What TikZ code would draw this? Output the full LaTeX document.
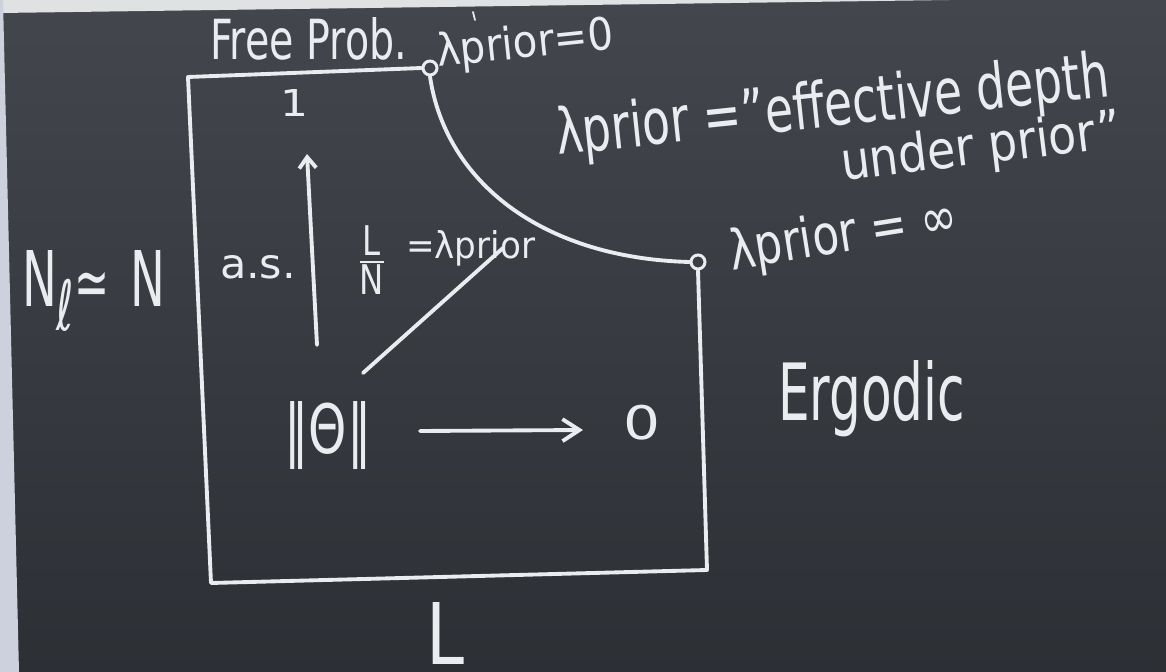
\documentclass[tikz,border=0pt]{standalone}
\usepackage{fontspec}
\setmainfont{DejaVu Sans}
\usepackage{graphicx}
\usetikzlibrary{arrows.meta}
\newlength\pxu \setlength\pxu{0.02cm}
\definecolor{chalk}{HTML}{E9EDF0}
\definecolor{boardtop}{HTML}{43474D}
\definecolor{boardmid}{HTML}{35393E}
\definecolor{boardbot}{HTML}{2C2F34}
\definecolor{wallA}{HTML}{DFE1E3}
\definecolor{wallB}{HTML}{CDD1DD}
\tikzset{
  chalkline/.style={draw=chalk, line width=2.2pt, line cap=round, line join=round},
  chalktext/.style={text=chalk, inner sep=0pt, outer sep=0pt},
  endpoint/.style={circle, draw=chalk, line width=1.7pt, minimum size=0.28cm, inner sep=0pt},
}
\newcommand\fitbox[3]{\resizebox{#1\pxu}{#2\pxu}{#3}}
\begin{document}
\begin{tikzpicture}[x=0.02cm, y=-0.02cm]
\useasboundingbox (0,0) rectangle (1166,672);
% board and wall
\shade[top color=boardtop, middle color=boardmid, bottom color=boardbot] (0,0) rectangle (1166,672);
\fill[wallA] (0,0) -- (950,0) -- (0,13) -- cycle;
\fill[wallB] (0,0) -- (3,0) -- (19,672) -- (0,672) -- cycle;

% corner points of the region
\node[endpoint] (c0) at (430,68) {};
\node[endpoint] (cinf) at (698,262) {};
\coordinate (tl) at (188,77);
\coordinate (bl) at (211,583);
\coordinate (br) at (707,570);

% region outline
\draw[chalkline] (c0.west) -- (tl) -- (bl) -- (br) -- (cinf.south);
\draw[chalkline] (c0.south) .. controls (445,180) and (540,258) .. (cinf.west);

% labels
\node[chalktext, anchor=base west] (free) at (210,60) {\fitbox{197}{42}{Free Prob.}};
\node[chalktext, anchor=base west, rotate=6] (lam0) at (438,67) {\fitbox{178}{34}{λprior=0}};
\draw[chalkline, line width=1pt] (473,12) -- (475,20);
\node[chalktext, anchor=base] (one) at (294,117) {\fitbox{28}{27}{1}};
\node[chalktext, anchor=base west] (as) at (220,278) {\fitbox{76}{23}{a.s.}};
\node[chalktext] (frac) at (372,260) {\resizebox*{32\pxu}{68\pxu}{$\frac{\hbox{L}}{\hbox{N}}$}};
\node[chalktext, anchor=base west] (lamLN) at (406,258) {\fitbox{129}{28}{=λprior}};
\node[chalktext] (theta) at (328,436) {\resizebox*{87\pxu}{68\pxu}{‖Θ‖}};
\node[chalktext] (zero) at (642,423) {\resizebox*{37\pxu}{35\pxu}{0}};
\node[chalktext, anchor=base west] (Nl) at (22,307) {\fitbox{143}{56}{N\raisebox{-.3em}{\small ℓ}\raisebox{0em}{\small ≃}\hspace{.45em}N}};
\node[chalktext, anchor=base west, rotate=6] (def1) at (558,155) {\fitbox{556}{48}{λprior ="effective depth}};
\node[chalktext, anchor=base west, rotate=7] (def2) at (843,181) {\fitbox{282}{40}{under prior"}};
\node[chalktext, anchor=base west, rotate=9] (laminf) at (732,270) {\fitbox{230}{42}{λprior = ∞}};
\node[chalktext, anchor=base west] (erg) at (778,420) {\fitbox{187}{60}{Ergodic}};
\node[chalktext, anchor=base west] (Llab) at (426,664) {\fitbox{38}{62}{L}};

% arrows and lines
\coordinate (uB) at (317,345);
\coordinate (uT) at (307,154);
\draw[chalkline, -{Straight Barb[length=0.22cm, width=0.34cm]}] (uB) -- (uT);
\coordinate (aL) at (420,431);
\coordinate (aR) at (583,430);
\draw[chalkline, -{Straight Barb[length=0.34cm, width=0.44cm]}] (aL) -- (aR);
\coordinate (dB) at (363,373);
\coordinate (dT) at (503,248);
\draw[chalkline] (dB) -- (dT);
\end{tikzpicture}
\end{document}
